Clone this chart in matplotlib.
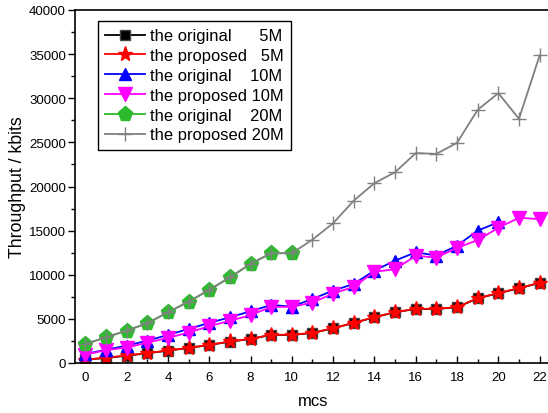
import matplotlib
matplotlib.use('Agg')
import matplotlib.pyplot as plt
from matplotlib.ticker import MultipleLocator

plt.rcParams['font.family'] = ['Liberation Sans', 'DejaVu Sans']

# mcs index
mcs_22 = list(range(0, 23))
mcs_20 = list(range(0, 21))
mcs_10 = list(range(0, 11))

orig_5m = [400, 560, 830, 1100, 1400, 1700, 2040, 2420, 2720, 3180, 3180,
           3400, 3930, 4540, 5180, 5750, 6120, 6120, 6310, 7330, 7900, 8470, 9070]
prop_5m = [380, 600, 850, 1120, 1420, 1720, 2060, 2440, 2740, 3200, 3200,
           3420, 3950, 4560, 5200, 5770, 6140, 6140, 6330, 7350, 7920, 8490, 9090]
orig_10m = [1020, 1510, 1960, 2530, 3180, 3860, 4540, 5180, 5860, 6580, 6390,
            7260, 8200, 8960, 10470, 11600, 12550, 12170, 13300, 15000, 15950]
prop_10m = [950, 1450, 1750, 2300, 2850, 3450, 4170, 4780, 5420, 6360, 6360,
            6850, 7870, 8630, 10330, 10630, 12150, 11950, 13050, 13920, 15320, 16460, 16300]
orig_20m = [2150, 2910, 3670, 4500, 5750, 6950, 8280, 9710, 11230, 12440, 12440]
prop_20m = [2150, 2910, 3670, 4500, 5750, 6950, 8280, 9710, 11230, 12440, 12440,
            13980, 15840, 18400, 20380, 21620, 23780, 23700, 24950, 28690, 30580, 27670, 34850]

labels = ['the original      5M', 'the proposed   5M', 'the original    10M',
          'the proposed 10M', 'the original    20M', 'the proposed 20M']

fig = plt.figure(figsize=(5.48, 4.14), dpi=100)
ax = fig.add_axes([75 / 548, 50 / 414, 476 / 548, 353 / 414])

green = '#2DBB2D'
ax.plot(mcs_22, orig_5m, '-s', color='black', lw=1.3, ms=7, mec='#444444', label=labels[0])
ax.plot(mcs_22, prop_5m, '-*', color='red', lw=1.3, ms=11, label=labels[1])
ax.plot(mcs_20, orig_10m, '-^', color='blue', lw=1.3, ms=8.5, label=labels[2])
ax.plot(mcs_22, prop_10m, '-v', color='magenta', lw=1.3, ms=10, label=labels[3])
ax.plot(mcs_10, orig_20m, '-p', color=green, lw=1.3, ms=11, label=labels[4])
ax.plot(mcs_22, prop_20m, '-+', color='gray', lw=1.3, ms=10, mew=1, label=labels[5])

ax.set_xlim(-0.5, 22.55)
ax.set_ylim(0, 40000)
ax.xaxis.set_major_locator(MultipleLocator(2))
ax.xaxis.set_minor_locator(MultipleLocator(1))
ax.yaxis.set_major_locator(MultipleLocator(5000))
ax.yaxis.set_minor_locator(MultipleLocator(2500))
ax.tick_params(axis='x', which='both', direction='in', labelsize=9.5, pad=6)
ax.tick_params(axis='x', which='major', length=5, width=1)
ax.tick_params(axis='x', which='minor', length=3, width=1)
ax.tick_params(axis='y', which='both', direction='out', labelsize=9.5, pad=1.5)
ax.tick_params(axis='y', which='major', length=5, width=1)
ax.tick_params(axis='y', which='minor', length=3, width=1)
for s in ax.spines.values():
    s.set_linewidth(1.2)

ax.set_xlabel('mcs', fontsize=12, labelpad=7)
ax.set_ylabel('Throughput / kbits', fontsize=12.8, labelpad=2)

leg = ax.legend(loc='upper left', bbox_to_anchor=(0.048, 0.969), borderaxespad=0,
                fontsize=11.9, handlelength=2.4, labelspacing=0.29, handletextpad=0.3,
                borderpad=0.45, fancybox=False, framealpha=1, edgecolor='black')
leg.get_frame().set_linewidth(1)

fig.savefig('out.png', dpi=100)
